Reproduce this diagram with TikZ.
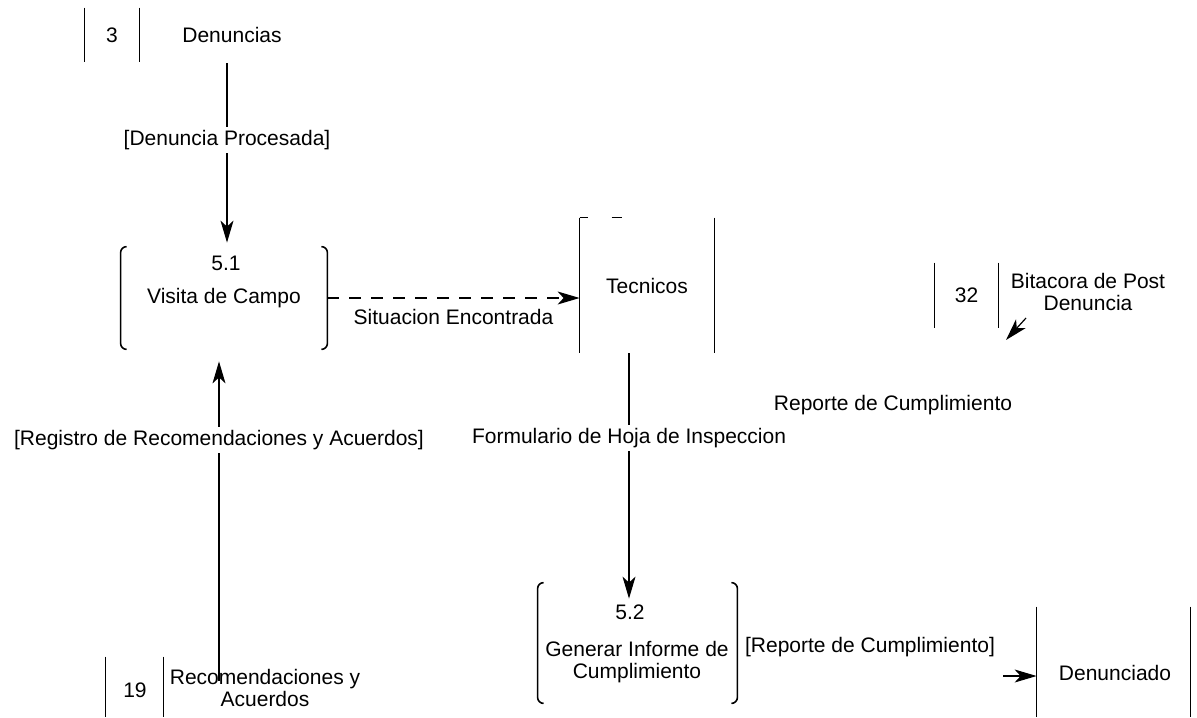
\documentclass[tikz,border=0pt]{standalone}
\usepackage{fontspec}
\setmainfont{Liberation Sans}
\usetikzlibrary{arrows.meta}
% vertical sides of a process box, with small rounded hooks at the ends
\newcommand\procsides[1]{%
  \draw[side,rounded corners=3pt]
    ([xshift=3pt]#1.north west) -- (#1.north west) -- (#1.south west) -- ([xshift=3pt]#1.south west)
    ([xshift=-3pt]#1.north east) -- (#1.north east) -- (#1.south east) -- ([xshift=-3pt]#1.south east);}
% vertical sides of a data store / external entity
\newcommand\storesides[1]{%
  \draw[side] (#1.north west) -- (#1.south west) (#1.north east) -- (#1.south east);}
\begin{document}
\begin{tikzpicture}[x=0.5pt,y=-0.5pt,
  every node/.style={font=\fontsize{10.5}{11}\selectfont, inner sep=0pt, align=center},
  side/.style={line width=0.8pt},
  flow/.style={-{Stealth[length=11pt,width=6.5pt,inset=3pt]}, line width=0.6pt},
  dflow/.style={flow, dash pattern=on 6pt off 5pt},
  lbl/.style={fill=white, inner sep=1.5pt}]
\useasboundingbox (0,0) rectangle (1197,717);

% store 3
\node[minimum width=27pt, minimum height=27pt] (s3) at (112,35) {3};
\node (s3lbl) at (232,35) {Denuncias};
\storesides{s3}

% process 5.1
\node[minimum width=103pt, minimum height=51pt] (p51) at (224,298) {Visita de Campo};
\node (p51n) at (226,263) {5.1};
\procsides{p51}

% Tecnicos
\node[minimum width=67pt, minimum height=67.5pt] (tec) at (647,285.5) {Tecnicos};
\storesides{tec}
\draw[side] (tec.north west) -- ++(8,0) ([xshift=16pt]tec.north west) -- ++(10,0);

% store 32
\node[minimum width=31.5pt, minimum height=32.5pt] (s32) at (966.5,295.5) {32};
\node (s32lbl) at (1088,292) {Bitacora de Post\\Denuncia};
\storesides{s32}

\node (rc) at (893,405) {Reporte de Cumplimiento};

% process 5.2
\node[minimum width=99.5pt, minimum height=60pt] (p52) at (637.5,643) {};
\node (p52n) at (630,612) {5.2};
\node (p52t) at (637,662) {Generar Informe de\\Cumplimiento};
\procsides{p52}

% Denunciado
\node[minimum width=76.5pt, minimum height=55pt] (den) at (1113.5,662) {};
\node (dent) at (1115,673) {Denunciado};
\storesides{den}

% store 19
\node[minimum width=28.5pt, minimum height=30pt] (s19) at (134.5,687) {};
\node (s19n) at (135,690) {19};
\node (s19lbl) at (265,688) {Recomendaciones y\\Acuerdos};
\storesides{s19}

% flow labels
\node[lbl] (dp) at (227,140) {[Denuncia Procesada]};
\node[lbl] (fh) at (629,438) {Formulario de Hoja de Inspeccion};
\node[lbl] (reg) at (219,440) {[Registro de Recomendaciones y Acuerdos]};
\node (rep) at (870,647) {[Reporte de Cumplimiento]};

% flows
\draw[flow, shorten <=10pt, shorten >=2pt] (s3lbl.south -| dp) -- (p51.north -| dp);
\draw[dflow] (p51.east) -- (p51.east -| tec.west)
  node[midway, yshift=-9.5pt] (se) {Situacion Encontrada};
\draw[flow, shorten >=-8pt] (tec.south -| fh) -- (p52.north -| fh);
\draw[flow, shorten <=-6pt, shorten >=6pt] (s19lbl.north -| reg) -- (p51.south -| reg);
\coordinate (repend) at (1003,676);
\draw[flow] (repend) -- (repend -| den.west);
\coordinate (bt1) at (1026,318);
\coordinate (bt2) at (1006,340);
\draw[flow] (bt1) -- (bt2);

% labels kept above the flow lines
\node[lbl] at (dp) {[Denuncia Procesada]};
\node[lbl] at (fh) {Formulario de Hoja de Inspeccion};
\node[lbl] at (reg) {[Registro de Recomendaciones y Acuerdos]};
\end{tikzpicture}
\end{document}
